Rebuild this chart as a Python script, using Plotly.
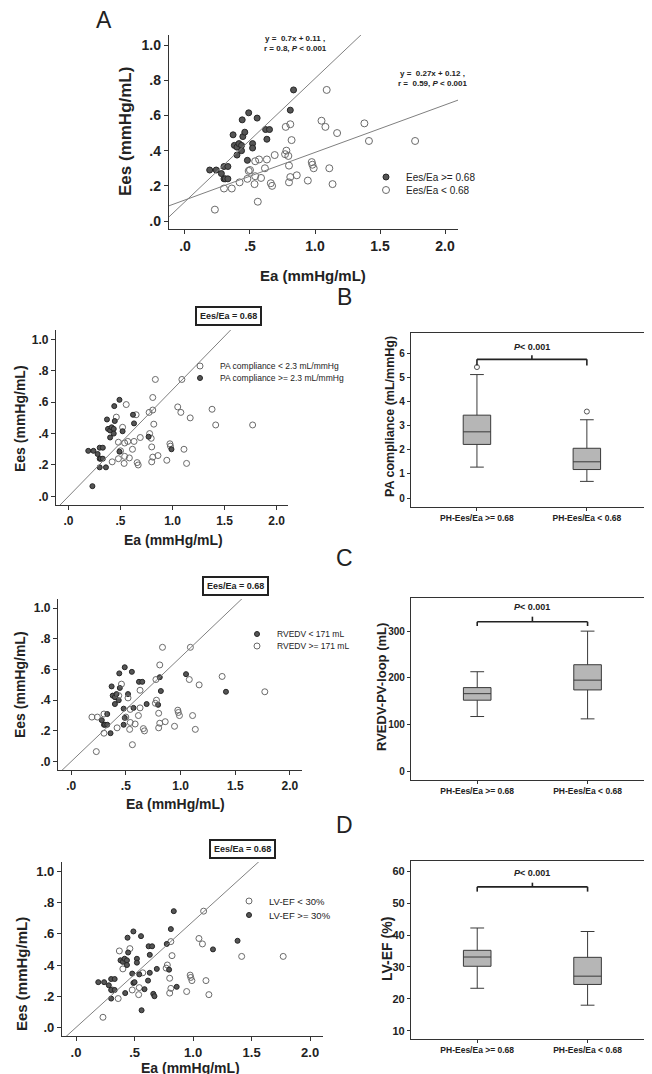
import plotly.graph_objects as go

W, H = 652, 1074
FONT = "Liberation Sans, Arial, sans-serif"

# ---------------- data ----------------
ea = [0.19, 0.24, 0.28, 0.30, 0.33, 0.30, 0.31, 0.33, 0.37, 0.38, 0.40, 0.40, 0.415, 0.435,
      0.435, 0.44, 0.445, 0.46, 0.49, 0.48, 0.52, 0.52, 0.555, 0.62, 0.65, 0.63, 0.81, 0.835,
      0.23, 0.30, 0.36, 0.42, 0.48, 0.49, 0.50, 0.535, 0.54, 0.54, 0.57, 0.56, 0.585, 0.615,
      0.63, 0.66, 0.67, 0.69, 0.77, 0.78, 0.795, 0.80, 0.81, 0.80, 0.775, 0.81, 0.82, 0.86,
      0.945, 0.975, 0.98, 0.99, 1.05, 1.08, 1.09, 1.11, 1.135, 1.17, 1.38, 1.415, 1.77]
ees = [0.29, 0.29, 0.27, 0.31, 0.31, 0.24, 0.24, 0.24, 0.49, 0.43, 0.42, 0.375, 0.44, 0.43,
       0.40, 0.575, 0.48, 0.505, 0.615, 0.345, 0.44, 0.415, 0.585, 0.52, 0.52, 0.465, 0.63, 0.745,
       0.065, 0.185, 0.185, 0.22, 0.24, 0.285, 0.29, 0.21, 0.255, 0.34, 0.35, 0.11, 0.245, 0.30,
       0.35, 0.215, 0.20, 0.375, 0.38, 0.40, 0.37, 0.315, 0.25, 0.22, 0.535, 0.55, 0.46, 0.26,
       0.23, 0.335, 0.32, 0.30, 0.57, 0.535, 0.745, 0.30, 0.21, 0.50, 0.555, 0.455, 0.455]

# group membership per point: F = filled marker, O = open marker, - = not shown
grp_a = "F" * 28 + "O" * 41                                   # Ees/Ea >= 0.68
grp_b = "FFFFFFFFFFFFFFFFF" + "OFOOFOFOFOO" + "FFFOOFOOOOO" + "-OOOOOOFOOO" + "OOOOOOOOOF" + "OOOOOOOOO"   # PA compliance >= 2.3
grp_c = "OOFOFFFFFF" + "FFFOFFFOFF" + "FOFFFOOOOO" + "FOFFOOOOFO" + "OOOOOFOOFO" + "OOOFFOOOOO" + "FOOOOOOFO"   # RVEDV < 171
grp_d = "FFFFFFOFOF" + "FOFFFFFOFF" + "FFFFFFFFOF" + "OFOFFOOFOF" + "FFFFFFOOFO" + "OOFOOFOOOO" + "OOOOOFFOO"   # LV-EF >= 30%

fit_slope = [0.7, 0.27]
fit_icpt = [0.11, 0.12]
ratio_cut = 0.68

box_groups = ["PH-Ees/Ea >= 0.68", "PH-Ees/Ea < 0.68"]
pac_q1 = [2.22, 1.18]; pac_med = [2.74, 1.50]; pac_q3 = [3.43, 2.06]
pac_lo = [1.28, 0.69]; pac_hi = [5.11, 3.24]; pac_out = [5.42, 3.58]
rv_q1 = [152, 174]; rv_med = [166, 195]; rv_q3 = [179, 228]
rv_lo = [117, 112]; rv_hi = [213, 300]
ef_q1 = [30.2, 24.5]; ef_med = [33.1, 27.1]; ef_q3 = [35.2, 33.0]
ef_lo = [23.3, 18.0]; ef_hi = [42.2, 41.1]

# ---------------- helpers ----------------
def fx(p):
    return p / W

def fy(p):
    return 1 - p / H

fig = go.Figure()

FILL_MK = dict(symbol="circle", color="#555555", line=dict(color="#262626", width=1))
OPEN_MK = dict(symbol="circle-open", color="#6a6a6a", line=dict(width=1))

def add_scatter_group(grp, xa, ya, legends, order, labels, size_f, size_o):
    for kind, lg in zip(order, legends):
        xs = [ea[i] for i in range(len(ea)) if grp[i] == kind]
        ys = [ees[i] for i in range(len(ees)) if grp[i] == kind]
        mk = dict(FILL_MK if kind == "F" else OPEN_MK)
        mk["size"] = size_f if kind == "F" else size_o
        fig.add_trace(go.Scatter(x=xs, y=ys, mode="markers", marker=mk, name=labels[kind],
                                 xaxis=xa, yaxis=ya, legend=lg, showlegend=True,
                                 hoverinfo="skip"))

def add_line(xa, ya, slope, icpt, xr):
    fig.add_trace(go.Scatter(x=xr, y=[slope * v + icpt for v in xr], mode="lines",
                             line=dict(color="#808080", width=1), xaxis=xa, yaxis=ya,
                             showlegend=False, hoverinfo="skip"))

def add_box(xa, ya, q1, med, q3, lo, hi, out=None):
    fig.add_trace(go.Box(x=[0, 1], q1=q1, median=med, q3=q3, lowerfence=lo, upperfence=hi,
                         orientation="v", width=0.25, whiskerwidth=0.5, fillcolor="#b6b6b6",
                         line=dict(color="#3a3a3a", width=1), boxpoints=False,
                         xaxis=xa, yaxis=ya, showlegend=False, hoverinfo="skip"))
    if out is not None:
        fig.add_trace(go.Scatter(x=[0, 1], y=out, mode="markers",
                                 marker=dict(symbol="circle-open", size=5, color="#555555",
                                             line=dict(width=1)),
                                 xaxis=xa, yaxis=ya, showlegend=False, hoverinfo="skip"))

# ---------------- traces ----------------
# Panel A
add_scatter_group(grp_a, "x", "y", ["legend", "legend2"], ["F", "O"],
                  {"F": "Ees/Ea >= 0.68", "O": "Ees/Ea < 0.68"}, 6, 7)
add_line("x", "y", fit_slope[0], fit_icpt[0], [-0.2, 2.2])
add_line("x", "y", fit_slope[1], fit_icpt[1], [-0.2, 2.2])

# Panel B
add_scatter_group(grp_b, "x2", "y2", ["legend3", "legend4"], ["O", "F"],
                  {"O": "PA compliance < 2.3 mL/mmHg", "F": "PA compliance >= 2.3 mL/mmHg"}, 5, 6)
add_line("x2", "y2", ratio_cut, 0, [-0.2, 1.7])
add_box("x3", "y3", pac_q1, pac_med, pac_q3, pac_lo, pac_hi, pac_out)

# Panel C
add_scatter_group(grp_c, "x4", "y4", ["legend5", "legend6"], ["F", "O"],
                  {"F": "RVEDV < 171 mL", "O": "RVEDV >= 171 mL"}, 5, 6)
add_line("x4", "y4", ratio_cut, 0, [-0.2, 1.7])
add_box("x5", "y5", rv_q1, rv_med, rv_q3, rv_lo, rv_hi)

# Panel D
add_scatter_group(grp_d, "x6", "y6", ["legend7", "legend8"], ["O", "F"],
                  {"O": "LV-EF < 30%", "F": "LV-EF >= 30%"}, 5, 6)
add_line("x6", "y6", ratio_cut, 0, [-0.2, 1.7])
add_box("x7", "y7", ef_q1, ef_med, ef_q3, ef_lo, ef_hi)

# ---------------- axes ----------------
def tfont(s):
    return dict(family=FONT, size=s, color="#222222", weight="bold")

def scat_axes(xd, yd, xr, yr, fs):
    xa = dict(domain=xd, range=xr, showgrid=False, zeroline=False, showline=True,
              linecolor="#333333", linewidth=1.3, ticks="outside", ticklen=4, tickcolor="#333333",
              tickvals=[0, 0.5, 1, 1.5, 2], ticktext=[".0", ".5", "1.0", "1.5", "2.0"],
              tickfont=tfont(fs), fixedrange=True)
    ya = dict(domain=yd, range=yr, showgrid=False, zeroline=False, showline=True,
              linecolor="#333333", linewidth=1.3, ticks="outside", ticklen=4, tickcolor="#333333",
              tickvals=[0, 0.2, 0.4, 0.6, 0.8, 1.0], ticktext=[".0", ".2", ".4", ".6", ".8", "1.0"],
              tickfont=tfont(fs), fixedrange=True)
    return xa, ya

def box_axes(xd, yd, yr, tv, fs):
    xa = dict(domain=xd, range=[-0.6, 1.62], showgrid=False, zeroline=False, showline=True,
              mirror=True, linecolor="#333333", linewidth=1.2, ticks="outside", ticklen=3,
              tickcolor="#333333", tickvals=[0, 1], ticktext=box_groups, tickfont=tfont(8.5),
              fixedrange=True)
    ya = dict(domain=yd, range=yr, showgrid=False, zeroline=False, showline=True, mirror=True,
              linecolor="#333333", linewidth=1.2, ticks="outside", ticklen=3, tickcolor="#333333",
              tickvals=tv, tickfont=tfont(fs), fixedrange=True)
    return xa, ya

xa1, ya1 = scat_axes([fx(161), fx(450)], [fy(221), fy(27)], [-0.123, 2.1], [-0.045, 1.057], 14)
xa2, ya2 = scat_axes([fx(48), fx(280)], [fy(497), fy(322)], [-0.12, 2.11], [-0.055, 1.06], 12)
xa4, ya4 = scat_axes([fx(50), fx(294)], [fy(762), fy(591)], [-0.12, 2.11], [-0.055, 1.06], 12)
xa6, ya6 = scat_axes([fx(54), fx(315)], [fy(1028), fy(854)], [-0.12, 2.11], [-0.055, 1.06], 13)
xa3, ya3 = box_axes([fx(403), fx(647)], [fy(499), fy(325)], [-0.37, 6.83], [0, 1, 2, 3, 4, 5, 6], 10)
xa5, ya5 = box_axes([fx(403), fx(648)], [fy(772), fy(590)], [-19, 371], [0, 100, 200, 300], 10)
xa7, ya7 = box_axes([fx(403), fx(648)], [fy(1031), fy(853)], [7.4, 63.2], [10, 20, 30, 40, 50, 60], 11)

for i, (xa, ya) in enumerate([(xa1, ya1), (xa2, ya2), (xa3, ya3), (xa4, ya4),
                              (xa5, ya5), (xa6, ya6), (xa7, ya7)], start=1):
    sfx = "" if i == 1 else str(i)
    xa["anchor"] = "y" + sfx
    ya["anchor"] = "x" + sfx
    fig.update_layout(**{"xaxis" + sfx: xa, "yaxis" + sfx: ya})

# ---------------- annotations ----------------
ann = []

def txt(x, y, s, size, bold=False, angle=0, xanchor="center", color="#222222"):
    ann.append(dict(x=fx(x), y=fy(y), xref="paper", yref="paper", text=s, showarrow=False,
                    textangle=angle, xanchor=xanchor, yanchor="middle",
                    font=dict(family=FONT, size=size, color=color,
                              weight="bold" if bold else "normal")))

# panel letters
txt(96, 12, "A", 23)
txt(336, 289, "B", 23)
txt(336, 550, "C", 23)
txt(336, 817, "D", 23)

# axis titles
txt(118, 124, "Ees (mmHg/mL)", 17, True, -90)
txt(305, 268, "Ea (mmHg/mL)", 15, True)
txt(12, 411, "Ees (mmHg/mL)", 14, True, -90)
txt(166, 532, "Ea (mmHg/mL)", 14, True)
txt(12, 677, "Ees (mmHg/mL)", 14, True, -90)
txt(167, 796, "Ea (mmHg/mL)", 14, True)
txt(13, 966, "Ees (mmHg/mL)", 15, True, -90)
txt(182, 1060, "Ea (mmHg/mL)", 14, True)
txt(382, 408, "PA compliance (mL/mmHg)", 12.5, True, -90)
txt(373, 679, "RVEDV-PV-loop (mL)", 13, True, -90)
txt(379, 941, "LV-EF (%)", 14, True, -90)

# regression equations
txt(287, 36, "y =  0.7x + 0.11 ,<br>r = 0.8, <i>P</i> < 0.001", 8, True)
txt(425, 71, "y =  0.27x + 0.12 ,<br>r =  0.59, <i>P</i> < 0.001", 8, True)

# Ees/Ea = 0.68 boxes
for (cx, cy) in [(220, 308), (227, 578), (234, 841)]:
    ann.append(dict(x=fx(cx), y=fy(cy), xref="paper", yref="paper", text="<b>Ees/Ea = 0.68</b>",
                    showarrow=False, xanchor="center", yanchor="middle",
                    bordercolor="#222222", borderwidth=2, borderpad=3, bgcolor="white",
                    font=dict(family="Liberation Sans Narrow, " + FONT, size=9, color="#222222")))

# P-value brackets
shapes = []
def bracket(xr, yr, yb, drop, tip, ytext):
    line = dict(color="#222222", width=1.6)
    shapes.append(dict(type="line", xref=xr, yref=yr, x0=0, x1=1, y0=yb, y1=yb, line=line))
    shapes.append(dict(type="line", xref=xr, yref=yr, x0=0, x1=0, y0=yb, y1=yb - drop, line=line))
    shapes.append(dict(type="line", xref=xr, yref=yr, x0=1, x1=1, y0=yb, y1=yb - drop, line=line))
    shapes.append(dict(type="line", xref=xr, yref=yr, x0=0.5, x1=0.5, y0=yb, y1=yb + tip, line=line))
    ann.append(dict(x=0.5, y=ytext, xref=xr, yref=yr, text="<b><i>P</i>< 0.001</b>",
                    showarrow=False, xanchor="center", yanchor="middle",
                    font=dict(family=FONT, size=9, color="#222222")))

bracket("x3", "y3", 5.74, 0.25, 0.17, 6.27)
bracket("x5", "y5", 320, 9, 11, 351)
bracket("x7", "y7", 55.1, 1.5, 1.3, 59.4)

# ---------------- legends (one entry each, placed like the reference) ----------------
def leg(marker_x, yc, size):
    return dict(x=fx(marker_x - 27), y=fy(yc), xanchor="left", yanchor="middle",
                bgcolor="rgba(0,0,0,0)", borderwidth=0, itemwidth=30, tracegroupgap=0,
                font=dict(family=FONT, size=size, color="#222222"))

fig.update_layout(
    width=W, height=H, margin=dict(l=0, r=0, t=0, b=0),
    paper_bgcolor="white", plot_bgcolor="white",
    annotations=ann, shapes=shapes,
    legend=leg(385, 169, 10), legend2=leg(385, 182, 10),
    legend3=leg(199, 358, 8.5), legend4=leg(199, 370, 8.5),
    legend5=leg(256, 626, 8.5), legend6=leg(256, 638, 8.5),
    legend7=leg(248, 893, 9.5), legend8=leg(248, 907, 9.5),
    font=dict(family=FONT),
)

fig.write_html("out.html")
